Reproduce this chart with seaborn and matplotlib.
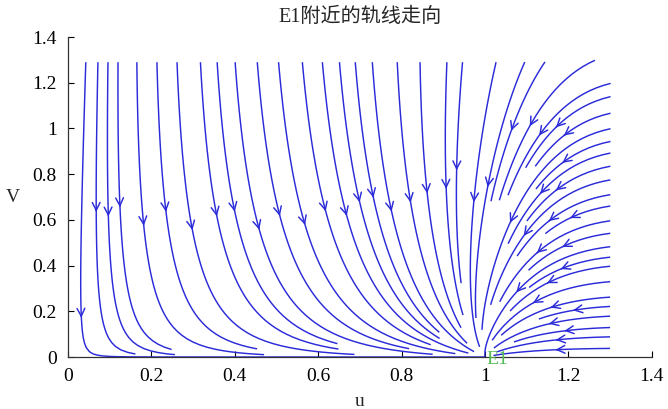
import numpy as np
import matplotlib
matplotlib.use("Agg")
import matplotlib.pyplot as plt
import seaborn as sns

# ---- chart values ----
title_text = "E1附近的轨线走向"
x_label = "u"
y_label = "V"
x_ticks = [0, 0.2, 0.4, 0.6, 0.8, 1.0, 1.2, 1.4]
x_tick_labels = ["0", "0.2", "0.4", "0.6", "0.8", "1", "1.2", "1.4"]
y_ticks = [0, 0.2, 0.4, 0.6, 0.8, 1.0, 1.2, 1.4]
y_tick_labels = ["0", "0.2", "0.4", "0.6", "0.8", "1", "1.2", "1.4"]
equilibrium_name = "E1"
equilibrium_point = [1.0, 0.0]

# vector field of the system (estimated from the trajectories)
# u' = u(1-u) - c*v ,  v' = -(d - e*u) * v
c_coef = 0.09
d_coef = 3.5
e_coef = 2.55
u_range = [0.0, 1.33]
v_range = [0.0, 1.33]

# where the trajectories enter the window (top edge and right edge)
top_start_u = [0.043, 0.072, 0.096, 0.12, 0.165, 0.213, 0.261, 0.317, 0.357,
               0.40, 0.453, 0.504, 0.561, 0.609, 0.65, 0.688, 0.729, 0.789,
               0.844, 0.909, 0.947, 1.029, 1.10, 1.151, 1.28]
top_start_v = 1.31
right_start_v = [1.204, 1.146, 1.073, 1.005, 0.949, 0.898, 0.84, 0.78, 0.715,
                 0.665, 0.60, 0.545, 0.486, 0.44, 0.40, 0.332, 0.264, 0.223,
                 0.18, 0.13, 0.089, 0.038]
right_start_u = 1.32

sns.set_theme(style="ticks")
plt.rcParams["font.family"] = ["Liberation Serif", "Noto Sans CJK SC", "DejaVu Sans"]

fig = plt.figure(figsize=(6.68, 4.09), dpi=100)
ax = fig.add_axes([0.1018, 0.1271, 0.874, 0.7824])

uu = np.linspace(u_range[0], u_range[1], 267)
vv = np.linspace(v_range[0], v_range[1], 267)
U, V = np.meshgrid(uu, vv)
DU = U * (1 - U) - c_coef * V
DV = -(d_coef - e_coef * U) * V

seeds = [[u, top_start_v] for u in top_start_u] + \
        [[right_start_u, v] for v in right_start_v]

line_color = (0.17, 0.17, 0.85)
ax.streamplot(U, V, DU, DV, density=2.2, color=line_color, linewidth=1.05,
              arrowsize=1.4, arrowstyle="->", start_points=np.array(seeds),
              integration_direction="forward", broken_streamlines=True)

ax.text(equilibrium_point[0] + 0.003, equilibrium_point[1] - 0.012, equilibrium_name,
        color="#55bb55", fontsize=14, ha="left", va="center",
        family=["Liberation Serif"], zorder=5)

ax.set_xlim(0, 1.4)
ax.set_ylim(0, 1.4)
ax.set_xticks(x_ticks)
ax.set_xticklabels(x_tick_labels)
ax.set_yticks(y_ticks)
ax.set_yticklabels(y_tick_labels)
ax.tick_params(direction="in", length=4, width=0.8, labelsize=14, colors="black", pad=8)
for s in ["top", "right"]:
    ax.spines[s].set_visible(False)
for s in ["left", "bottom"]:
    ax.spines[s].set_color("#333333")
    ax.spines[s].set_linewidth(0.9)

ax.set_xlabel(x_label, fontsize=14, labelpad=6)
ax.set_ylabel(y_label, fontsize=14, rotation=0, labelpad=14, va="center")
ax.set_title(title_text, fontsize=14.5, pad=11)

fig.savefig("out.png", dpi=100, facecolor="white")
